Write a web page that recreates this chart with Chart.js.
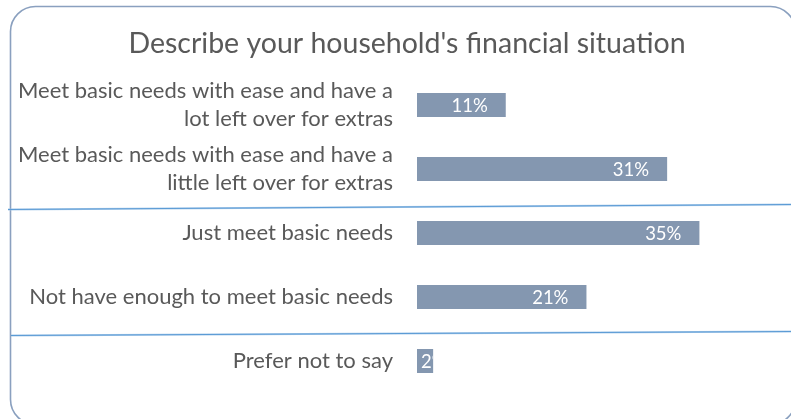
<!DOCTYPE html>
<html>
<head>
<meta charset="utf-8">
<script src="https://cdn.jsdelivr.net/npm/chart.js@4/dist/chart.umd.min.js"></script>
<style>
  html, body { margin: 0; padding: 0; background: #ffffff; }
  #wrap { position: relative; width: 791px; height: 419px; }
</style>
</head>
<body>
<div id="wrap"><canvas id="chart" width="791" height="419"></canvas></div>
<script>
// Survey answers (share of households, %)
const categories = [
  ['Meet basic needs with ease and have a', 'lot left over for extras'],
  ['Meet basic needs with ease and have a', 'little left over for extras'],
  'Just meet basic needs',
  'Not have enough to meet basic needs',
  'Prefer not to say'
];
const shares = [11, 31, 35, 21, 2];
const valueLabels = ['11%', '31%', '35%', '21%', '2%'];
const titleText = "Describe your household's financial situation";

const FONT = 'Lato, "Open Sans", sans-serif';
const TEXT_GREY = '#595959';
const BAR_COLOR = '#8497b0';

// Rounded frame around the whole chart (its right edge runs past the canvas)
const framePlugin = {
  id: 'frame',
  beforeDraw(chart) {
    const ctx = chart.ctx;
    ctx.save();
    ctx.fillStyle = '#ffffff';
    ctx.fillRect(0, 0, chart.width, chart.height);
    ctx.beginPath();
    ctx.roundRect(10.5, 6.5, 785, 418, 25);
    ctx.lineWidth = 1.6;
    ctx.strokeStyle = '#8aa0bf';
    ctx.stroke();
    ctx.restore();
  }
};

// Group dividers drawn between answer groups
const dividerAfter = [1, 3];
const dividerPlugin = {
  id: 'dividers',
  afterDraw(chart) {
    const y = chart.scales.y;
    const ctx = chart.ctx;
    ctx.save();
    dividerAfter.forEach((idx, i) => {
      const mid = (y.getPixelForValue(idx) + y.getPixelForValue(idx + 1)) / 2;
      const yl = mid + (i === 0 ? 8.5 : 6.5);
      const yr = mid + (i === 0 ? 3.5 : 2.5);
      const x0 = i === 0 ? 8 : 11;
      ctx.beginPath();
      ctx.moveTo(x0, yl);
      ctx.lineTo(chart.width, yr);
      ctx.lineWidth = 2.2;
      ctx.strokeStyle = 'rgba(155,194,230,0.8)';
      ctx.stroke();
      ctx.beginPath();
      ctx.moveTo(x0, yl);
      ctx.lineTo(chart.width, yr);
      ctx.lineWidth = 1.1;
      ctx.strokeStyle = '#5b9bd5';
      ctx.stroke();
    });
    ctx.restore();
  }
};

// Value labels placed inside the bar end, clipped to the bar
const valueLabelPlugin = {
  id: 'valueLabels',
  afterDatasetsDraw(chart) {
    const ctx = chart.ctx;
    const meta = chart.getDatasetMeta(0);
    ctx.save();
    ctx.font = '18.5px ' + FONT;
    ctx.fillStyle = '#ffffff';
    ctx.textBaseline = 'middle';
    meta.data.forEach((bar, i) => {
      const p = bar.getProps(['x', 'y', 'base', 'height'], true);
      const text = valueLabels[i];
      const w = ctx.measureText(text).width;
      let x = p.x - 18 - w;
      if (x < p.base + 4) x = p.base + 4;
      ctx.save();
      ctx.beginPath();
      ctx.rect(p.base, p.y - p.height / 2, p.x - p.base, p.height);
      ctx.clip();
      ctx.textAlign = 'left';
      ctx.fillText(text, x, p.y + 1);
      ctx.restore();
    });
    ctx.restore();
  }
};

new Chart(document.getElementById('chart'), {
  type: 'bar',
  data: {
    labels: categories,
    datasets: [{
      data: shares,
      backgroundColor: BAR_COLOR,
      borderWidth: 0,
      barPercentage: 0.375,
      categoryPercentage: 1.0
    }]
  },
  options: {
    indexAxis: 'y',
    responsive: false,
    animation: false,
    events: [],
    // the plot frame extends past the right edge, so the title centres on it
    layout: { padding: { left: 0, right: -23, top: 0, bottom: 26 } },
    plugins: {
      legend: { display: false },
      tooltip: { enabled: false },
      title: {
        display: true,
        text: titleText,
        color: TEXT_GREY,
        font: { family: FONT, size: 28.5, weight: 'normal', lineHeight: 1.2 },
        padding: { top: 26.9, bottom: 11.9 }
      }
    },
    scales: {
      x: {
        display: false,
        min: 0,
        max: 46.35
      },
      y: {
        grid: { display: false, drawTicks: false },
        border: { display: false },
        afterFit(scale) {
          scale.width = 417;
          scale.paddingTop = 0;
          scale.paddingBottom = 0;
        },
        ticks: {
          color: TEXT_GREY,
          padding: 24,
          font: { family: FONT, size: 22, lineHeight: 1.3 }
        }
      }
    }
  },
  plugins: [framePlugin, valueLabelPlugin, dividerPlugin]
});
</script>
</body>
</html>
